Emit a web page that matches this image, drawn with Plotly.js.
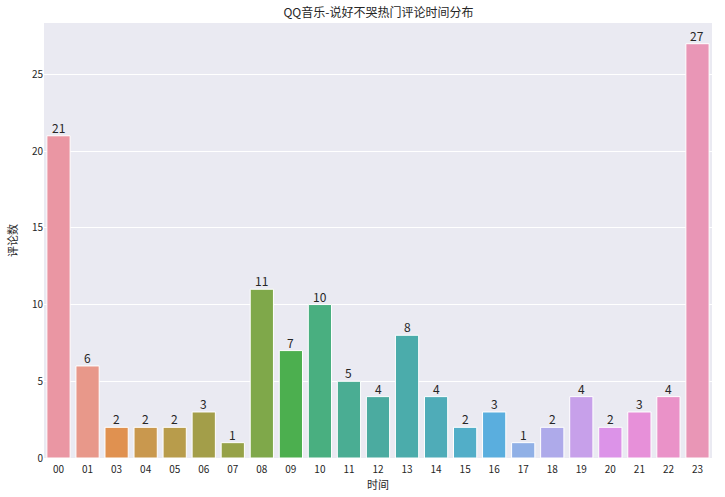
<!DOCTYPE html>
<html>
<head>
<meta charset="utf-8">
<script src="https://cdn.plot.ly/plotly-3.0.1.min.js"></script>
<style>html,body{margin:0;padding:0;background:#fff;}#chart{width:725px;height:497px;}</style>
</head>
<body>
<div id="chart"></div>
<script>
var hours = ["00","01","03","04","05","06","07","08","09","10","11","12","13","14","15","16","17","18","19","20","21","22","23"];
var counts = [21,6,2,2,2,3,1,11,7,10,5,4,8,4,2,3,1,2,4,2,3,4,27];
var barColors = ["#ea96a3","#e8988a","#e09150","#c9984e","#b89c4b","#a39e49","#96a248","#7fa84a","#4caf4f","#49af80","#4aad93","#4baba0","#4bacab","#4facb8","#52aec8","#5aaede","#90b0e6","#aeaaea","#c7a0ea","#dc93e8","#e790d9","#ea92c8","#e996b6"];
var titleText = "QQ音乐-说好不哭热门评论时间分布";
var xLabel = "时间";
var yLabel = "评论数";

var font = '"Noto Sans CJK SC", "DejaVu Sans", sans-serif';
var trace = {
  type: "bar",
  x: hours,
  y: counts,
  marker: {color: barColors, line: {color: "#ffffff", width: 1}},
  hoverinfo: "x+y"
};
// category axis: annotation x given as category index
var annotations = hours.map(function(h, i) {
  return {
    x: i, y: counts[i], xref: "x", yref: "y",
    text: String(counts[i]), showarrow: false,
    xanchor: "center", yanchor: "bottom", yshift: -2,
    font: {family: font, size: 12, color: "#262626"}
  };
});
var layout = {
  width: 725, height: 497,
  margin: {l: 44, r: 13, t: 23, b: 39},
  paper_bgcolor: "#ffffff",
  plot_bgcolor: "#eaeaf2",
  showlegend: false,
  bargap: 0.2,
  font: {family: font, size: 10, color: "#262626"},
  title: {text: titleText, x: 0.522, xanchor: "center", y: 0.975, yanchor: "middle", font: {family: font, size: 12, color: "#262626"}},
  annotations: annotations,
  xaxis: {
    type: "category",
    categoryorder: "array", categoryarray: hours,
    range: [-0.5, hours.length - 0.5],
    showgrid: false, zeroline: false, showline: false,
    ticks: "", ticklabelstandoff: 4,
    tickfont: {family: font, size: 10, color: "#262626"},
    title: {text: xLabel, standoff: 4, font: {family: font, size: 11, color: "#262626"}}
  },
  yaxis: {
    range: [0, 28.35],
    tickvals: [0,5,10,15,20,25],
    showgrid: true, gridcolor: "#ffffff", gridwidth: 1,
    zeroline: false, showline: false, ticks: "",
    tickfont: {family: font, size: 10, color: "#262626"},
    title: {text: yLabel, standoff: 12, font: {family: font, size: 11, color: "#262626"}}
  }
};
Plotly.newPlot("chart", [trace], layout, {displayModeBar: false, staticPlot: true});
</script>
</body>
</html>
